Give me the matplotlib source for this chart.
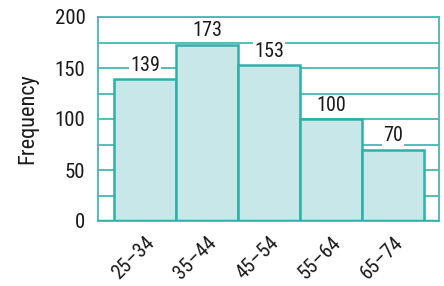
import matplotlib
matplotlib.use("Agg")
import matplotlib.pyplot as plt
from matplotlib import font_manager

categories = ["25–34", "35–44", "45–54", "55–64", "65–74"]
values = [139, 173, 153, 100, 70]
yticks = [0, 50, 100, 150, 200]

names = {f.name for f in font_manager.fontManager.ttflist}
fam = "Liberation Sans"
for cand in ["Liberation Sans Narrow", "Roboto Condensed", "Open Sans Condensed"]:
    if cand in names:
        fam = cand
        break
plt.rcParams['font.family'] = [fam, 'DejaVu Sans']

teal = "#2fafaa"
grid = "#45b9b3"
fill = "#c7e7e9"
txt = "#1a1a1a"

fig = plt.figure(figsize=(4.44, 2.86), dpi=100)
ax = fig.add_axes([98/444, 1-221/286, (439-98)/444, (221-17)/286])

x = list(range(len(categories)))
ax.set_axisbelow(True)
for v in range(0, 201, 25):
    ax.axhline(v, color=grid, lw=1.3, zorder=0)
bars = ax.bar(x, values, width=1.0, color=fill, edgecolor=teal, linewidth=1.8, zorder=2)
ax.axhline(0, color=teal, lw=2.5, zorder=3)

for xi, v in zip(x, values):
    ax.annotate(str(v), (xi, v), xytext=(0, 3), textcoords="offset points",
                ha="center", va="bottom", fontsize=14.5, color=txt, zorder=4,
                bbox=dict(boxstyle="square,pad=0.05", fc="white", ec="none"))

ax.set_xlim(-0.76, 4.74)
ax.set_ylim(0, 200)
ax.set_yticks(yticks)
ax.set_yticklabels([str(t) for t in yticks], fontsize=15, color=txt)
ax.set_xticks(x)
ax.set_xticklabels(categories, rotation=45, ha="right", rotation_mode="anchor",
                   fontsize=14.5, color=txt)
ax.tick_params(axis="y", length=0, pad=9)
ax.tick_params(axis="x", length=0, pad=9)
for s in ax.spines.values():
    s.set_color(grid)
    s.set_linewidth(1.3)
ax.set_ylabel("Frequency", fontsize=16, color=txt, labelpad=12)

fig.savefig("out.png", dpi=100)
